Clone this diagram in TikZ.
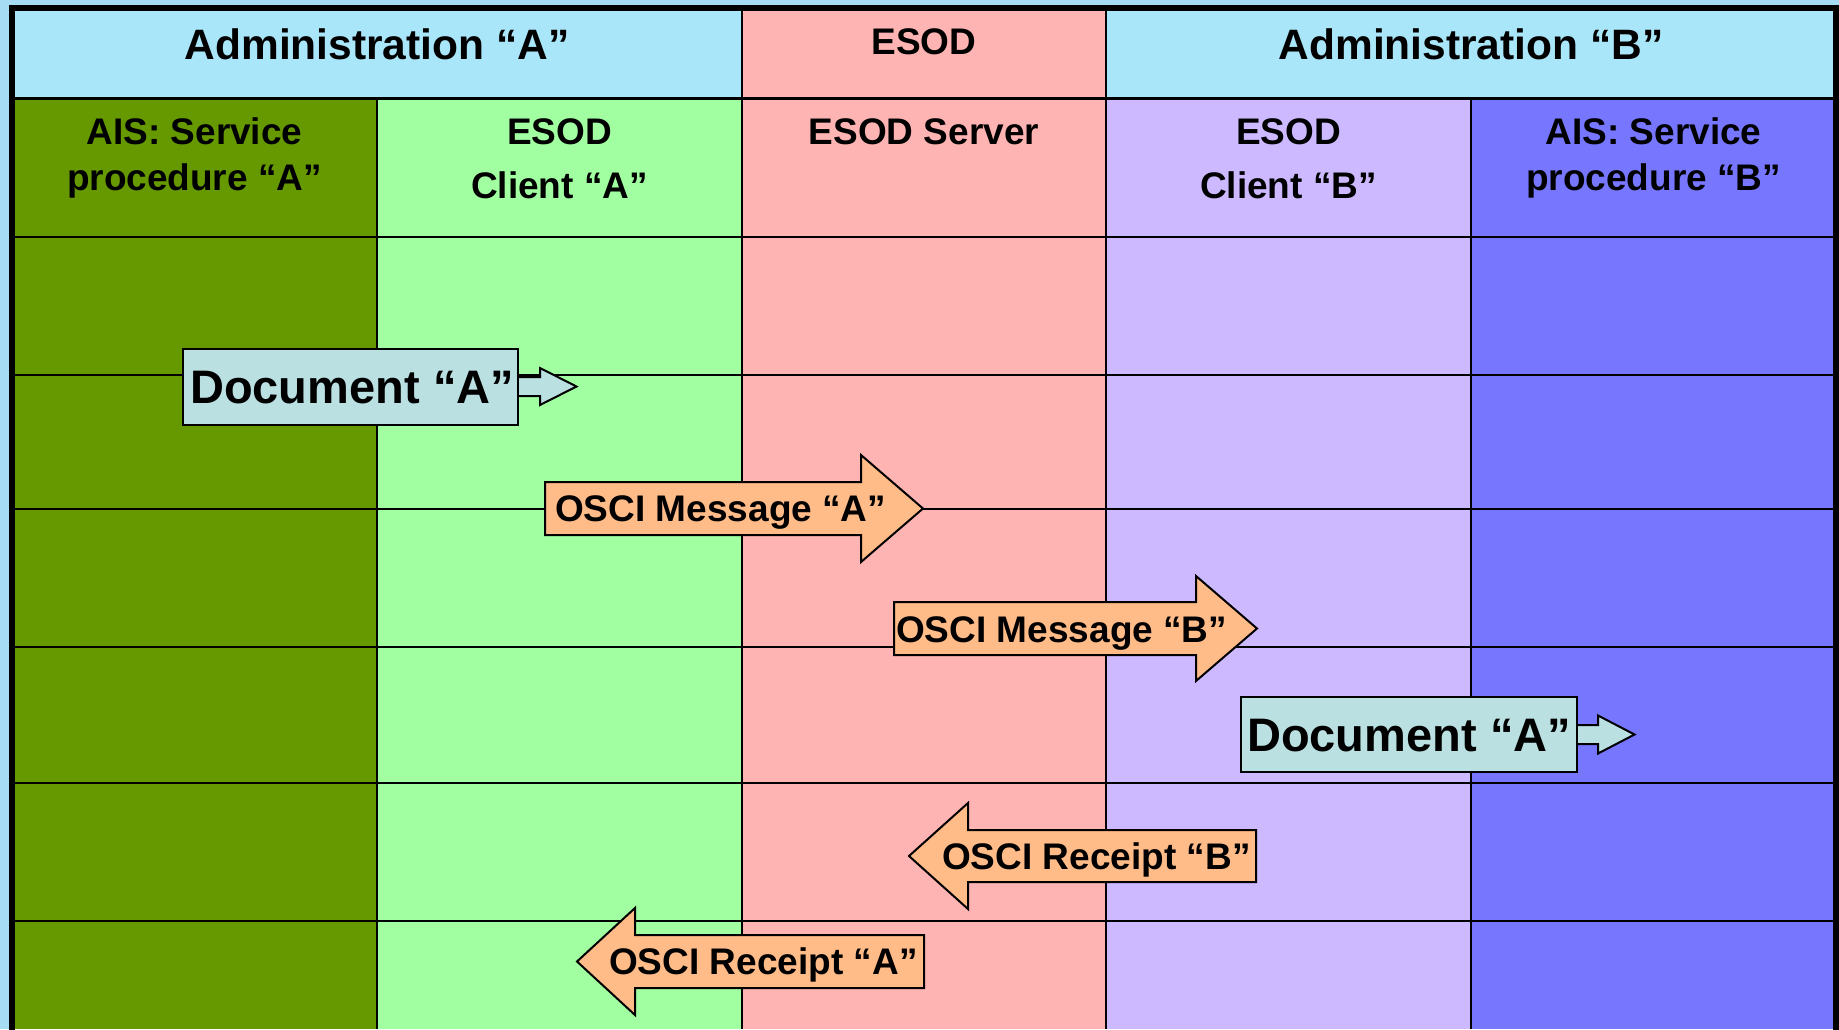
\documentclass[tikz,border=0pt]{standalone}
\usepackage{fontspec}
\setmainfont{Liberation Sans}

\definecolor{outerbg}{RGB}{166,221,245}
\definecolor{headbg}{RGB}{170,230,249}
\definecolor{colais}{RGB}{102,153,0}
\definecolor{colclient}{RGB}{161,255,161}
\definecolor{colserver}{RGB}{255,180,180}
\definecolor{colclientb}{RGB}{204,185,255}
\definecolor{colaisb}{RGB}{118,118,255}
\definecolor{doccol}{RGB}{186,224,226}
\definecolor{oscicol}{RGB}{255,187,136}

\newcommand{\hdfont}{\fontsize{42.5}{50}\selectfont\bfseries}
\newcommand{\subfont}{\fontsize{37}{44}\selectfont\bfseries}
\newcommand{\arrfont}{\fontsize{37}{44}\selectfont\bfseries}
\newcommand{\docfont}{\fontsize{47}{55}\selectfont\bfseries}

\begin{document}
\begin{tikzpicture}[x=1pt,y=-1pt,
  grid/.style={line width=2.5pt, black},
  lbl/.style={inner sep=0pt, anchor=base},
  lblw/.style={inner sep=0pt, anchor=base west},
  flow/.style={fill=oscicol, draw=black, line width=2pt, line join=miter},
  docbox/.style={fill=doccol, draw=black, line width=2pt},
]
\useasboundingbox (0,0) rectangle (1839,1029);

% backgrounds
\fill[outerbg] (0,0) rectangle (1839,1029);
\fill[headbg] (12,8) rectangle (1836,98.5);
\fill[colserver] (742,8) rectangle (1106,1029);
\fill[colais] (12,98.5) rectangle (377,1029);
\fill[colclient] (377,98.5) rectangle (742,1029);
\fill[colclientb] (1106,98.5) rectangle (1471,1029);
\fill[colaisb] (1471,98.5) rectangle (1836,1029);

% table rules
\foreach \y in {98.5,237,375,509,647,783,921}
  \draw[grid] (12,\y) -- (1836,\y);
\draw[grid] (377,98.5) -- (377,1029);
\draw[grid] (742,8) -- (742,1029);
\draw[grid] (1106,8) -- (1106,1029);
\draw[grid] (1471,98.5) -- (1471,1029);

% outer frame
\draw[line width=6pt] (12,1040) -- (12,8) -- (1836,8) -- (1836,1040);

% header texts
\node[lbl] (adminA) at (377,59.8) {\hdfont Administration “A”};
\node[lbl] (esodH) at (924,54.3) {\subfont ESOD};
\node[lbl] (adminB) at (1471,59.8) {\hdfont Administration “B”};

\node[lbl] (aisA1) at (194.5,144.7) {\subfont AIS: Service};
\node[lbl] (aisA2) at (194.5,190.4) {\subfont procedure “A”};
\node[lbl] (cliA1) at (559.5,144.7) {\subfont ESOD};
\node[lbl] (cliA2) at (559.5,198.6) {\subfont Client “A”};
\node[lbl] (server) at (924,144.7) {\subfont ESOD Server};
\node[lbl] (cliB1) at (1288.5,144.7) {\subfont ESOD};
\node[lbl] (cliB2) at (1288.5,198.6) {\subfont Client “B”};
\node[lbl] (aisB1) at (1653.5,144.7) {\subfont AIS: Service};
\node[lbl] (aisB2) at (1653.5,190.4) {\subfont procedure “B”};

% document "A" leaving procedure A
\draw[docbox] (518,377) -- (540,377) -- (540,368) -- (576.5,386.5) -- (540,405) -- (540,396) -- (518,396);
\draw[docbox] (183,349) rectangle (518,424.5);
\node[lblw] (docA1) at (190,403.8) {\docfont Document “A”};

% OSCI message A
\draw[flow] (545,482) -- (861,482) -- (861,455) -- (923,508.5) -- (861,562) -- (861,535) -- (545,535) -- cycle;
\node[lblw] (msgA) at (555,521.8) {\arrfont OSCI Message “A”};

% OSCI message B
\draw[flow] (894,602) -- (1196,602) -- (1196,576) -- (1257,628.5) -- (1196,681) -- (1196,655) -- (894,655) -- cycle;
\node[lblw] (msgB) at (896,642) {\arrfont OSCI Message “B”};

% document "A" delivered to procedure B
\draw[docbox] (1577,725) -- (1598,725) -- (1598,715.5) -- (1634.5,734.5) -- (1598,753.5) -- (1598,744) -- (1577,744);
\draw[docbox] (1241,697) rectangle (1577,772);
\node[lblw] (docA2) at (1247,751.3) {\docfont Document “A”};

% OSCI receipt B
\draw[flow] (1256,830) -- (968,830) -- (968,803) -- (909,856) -- (968,909) -- (968,882) -- (1256,882) -- cycle;
\node[lblw] (rcpB) at (942,869.3) {\arrfont OSCI Receipt “B”};

% OSCI receipt A
\draw[flow] (924,935) -- (635,935) -- (635,908) -- (577,961.5) -- (635,1015) -- (635,988) -- (924,988) -- cycle;
\node[lblw] (rcpA) at (609,974.8) {\arrfont OSCI Receipt “A”};
\end{tikzpicture}
\end{document}
